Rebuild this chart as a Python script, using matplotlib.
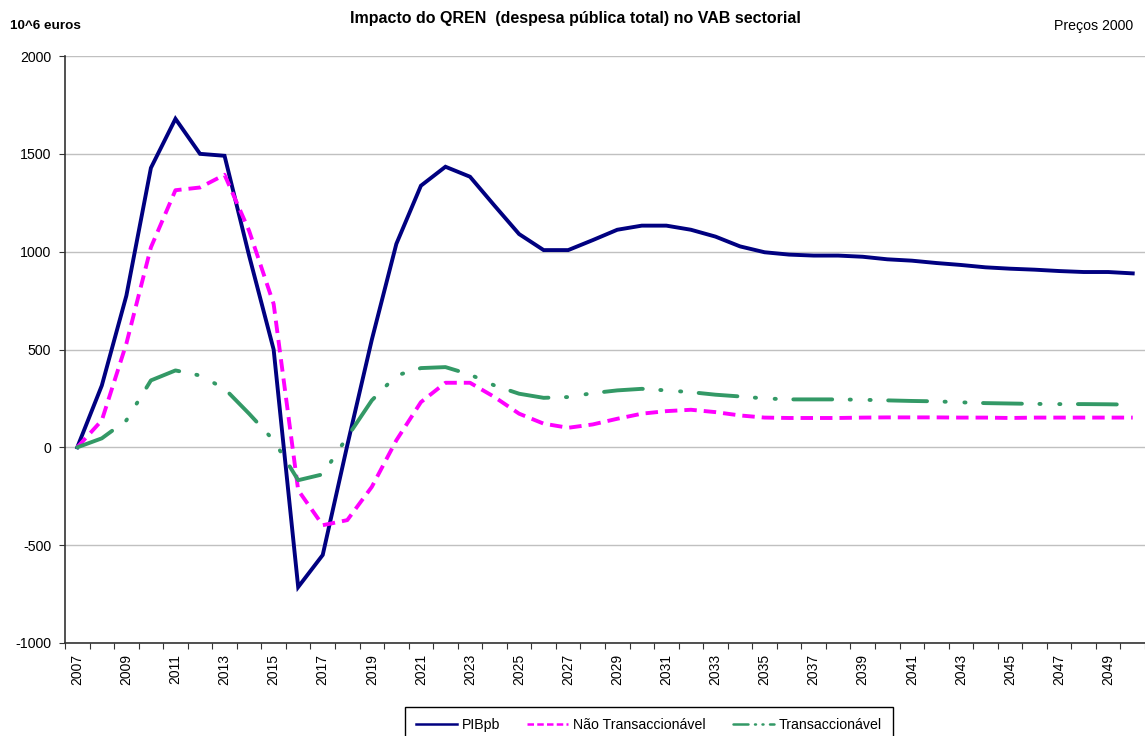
import matplotlib
matplotlib.use("Agg")
import matplotlib.pyplot as plt
from matplotlib.lines import Line2D
import numpy as np

plt.rcParams['font.family'] = ['Liberation Sans', 'DejaVu Sans']

years = list(range(2007, 2051))
pib = [0, 316, 775, 1428, 1679, 1500, 1490, 980, 500, -714, -550, 10, 550, 1040,
       1337, 1434, 1383, 1235, 1090, 1008, 1008, 1059, 1112, 1133, 1133, 1112, 1077,
       1027, 997, 985, 980, 980, 974, 961, 954, 942, 932, 920, 913, 908, 901, 896,
       896, 889]
nao_trans = [0, 138, 530, 1022, 1314, 1328, 1393, 1107, 733, -219, -398, -372, -202, 36,
             231, 330, 330, 257, 172, 121, 100, 117, 146, 172, 185, 192, 180,
             163, 152, 150, 150, 150, 152, 153, 153, 153, 152, 152, 150, 152, 152, 152,
             152, 152]
trans = [0, 46, 138, 342, 393, 367, 300, 172, 36, -168, -138, 53, 240, 367,
         405, 410, 372, 316, 274, 253, 257, 277, 291, 299, 291, 282, 269,
         260, 250, 245, 245, 245, 243, 240, 237, 235, 230, 226, 224, 222, 221, 221,
         220, 218]
yticks = [-1000, -500, 0, 500, 1000, 1500, 2000]
labels = ['PIBpb', 'Não Transaccionável', 'Transaccionável']
colors = ['#000080', '#FF00FF', '#339966']

fig = plt.figure(figsize=(11.45, 7.36), dpi=100)
ax = fig.add_axes([65/1145, 93/736, 1080/1145, 587/736])

x = np.arange(len(years))
ax.plot(x, pib, color=colors[0], lw=2.8, solid_joinstyle='miter')
ax.plot(x, nao_trans, color=colors[1], lw=2.8, dashes=(3.2, 1.8))
ax.plot(x, trans, color=colors[2], lw=2.8, dashes=(10, 4.5, 0.3, 4.8, 0.3, 4.5),
        dash_capstyle='round')

ax.set_xlim(-0.5, len(years) - 0.5)
ax.set_ylim(-1000, 2000)
ax.set_yticks(yticks)
ax.set_yticklabels([str(v) for v in yticks], fontsize=10.2)
ax.yaxis.grid(True, color='#c0c0c0', lw=1.0)
ax.set_axisbelow(True)

ax.set_xticks(np.arange(-0.5, len(years), 1.0))
ax.set_xticklabels([])
ax.set_xticks(x[::2], minor=True)
ax.set_xticklabels([str(y) for y in years[::2]], minor=True, rotation=90, fontsize=10)
ax.tick_params(axis='x', which='minor', length=0, pad=8)
ax.tick_params(axis='x', which='major', length=4, direction='out', color='#333333')
ax.tick_params(axis='y', length=4, direction='out', color='#333333', pad=6)

for s in ['top', 'right']:
    ax.spines[s].set_visible(False)
for s in ['left', 'bottom']:
    ax.spines[s].set_color('#333333')
    ax.spines[s].set_linewidth(1.2)

fig.text(575/1145, 1 - 18/736, 'Impacto do QREN  (despesa pública total) no VAB sectorial',
         ha='center', va='center', fontsize=11.5, fontweight='bold')
fig.text(10/1145, 1 - 26/736, '10^6 euros', ha='left', va='center', fontsize=9.7, fontweight='bold')
fig.text(1133/1145, 1 - 26/736, 'Preços 2000', ha='right', va='center', fontsize=10.2)

handles = [
    Line2D([], [], color=colors[0], lw=1.8),
    Line2D([], [], color=colors[1], lw=1.8, dashes=(2.6, 1.3)),
    Line2D([], [], color=colors[2], lw=1.8, dashes=(6, 2.6, 0.4, 2.6, 0.4, 2.6), dash_capstyle='round'),
]
leg = fig.legend(handles, labels, loc='upper center', bbox_to_anchor=(649/1145, 1 - 707/736), ncol=3,
                 fancybox=False, edgecolor='black', fontsize=10.2, handlelength=2.9,
                 columnspacing=1.9, handletextpad=0.35, borderpad=0.75, framealpha=1,
                 borderaxespad=0)
leg.get_frame().set_linewidth(1.0)

fig.savefig('out.png', dpi=100)
